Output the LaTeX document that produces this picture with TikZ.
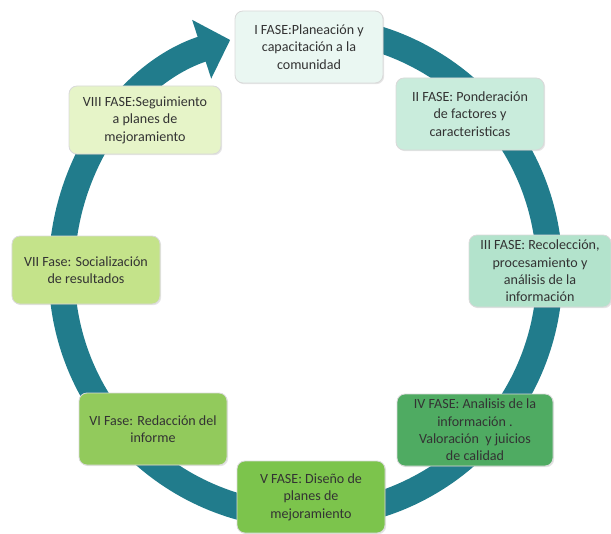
\documentclass[tikz,border=0pt]{standalone}
\usepackage{fontspec}
\setmainfont{Carlito}
\usetikzlibrary{arrows.meta,shadows}

\definecolor{ringteal}{HTML}{217C8C}
\definecolor{faseI}{HTML}{EAF7F2}
\definecolor{faseII}{HTML}{C9ECDC}
\definecolor{faseIII}{HTML}{B3E3CC}
\definecolor{faseIV}{HTML}{4FAB62}
\definecolor{faseV}{HTML}{7CC44C}
\definecolor{faseVI}{HTML}{92CA5C}
\definecolor{faseVII}{HTML}{C4E38A}
\definecolor{faseVIII}{HTML}{E6F4C8}

\tikzset{
  fase/.style={draw=black!15, line width=0.6pt, rounded corners=0.2cm,
    minimum width=3.7cm, minimum height=1.8cm, align=center,
    text=black!80, font=\fontsize{10}{12.4}\selectfont,
    drop shadow={shadow xshift=0.03cm, shadow yshift=-0.03cm, opacity=0.2}},
  ring/.style={ringteal, line width=0.65cm,
    -{Triangle[width=1.5cm,length=0.75cm]}}
}

\begin{document}
\begin{tikzpicture}
  \useasboundingbox (0,0) rectangle (15.275,13.325);
  %Center of the cycle
  \coordinate (O) at (7.64,6.525);

  %Ring with arrow
  \draw[ring] (O) ++(95:6.1) arc[start angle=95, end angle=-252, radius=6.1];

  %Phases
  \node[fase, fill=faseI] (f1) at (7.725,12.15) {I FASE:Planeación y\\capacitación a la\\comunidad};
  \node[fase, fill=faseII] (f2) at (11.75,10.475) {II FASE: Ponderación\\de factores y\\caracteristicas};
  \node[fase, fill=faseIII, minimum width=3.55cm] (f3) at (13.5,6.55) {III FASE: Recolección,\\procesamiento y\\análisis de la\\información};
  \node[fase, fill=faseIV, minimum width=3.9cm] (f4) at (11.875,2.575) {IV FASE: Analisis de la\\información .\\Valoración~ y juicios\\de calidad};
  \node[fase, fill=faseV] (f5) at (7.775,0.9) {V FASE: Diseño de\\planes de\\mejoramiento};
  \node[fase, fill=faseVI] (f6) at (3.825,2.6) {VI Fase: Redacción del\\informe};
  \node[fase, fill=faseVII, minimum height=1.7cm] (f7) at (2.15,6.575) {VII Fase: Socialización\\de resultados};
  \node[fase, fill=faseVIII, minimum width=3.8cm, minimum height=1.7cm] (f8) at (3.625,10.325) {VIII FASE:Seguimiento\\a planes de\\mejoramiento};
\end{tikzpicture}
\end{document}
